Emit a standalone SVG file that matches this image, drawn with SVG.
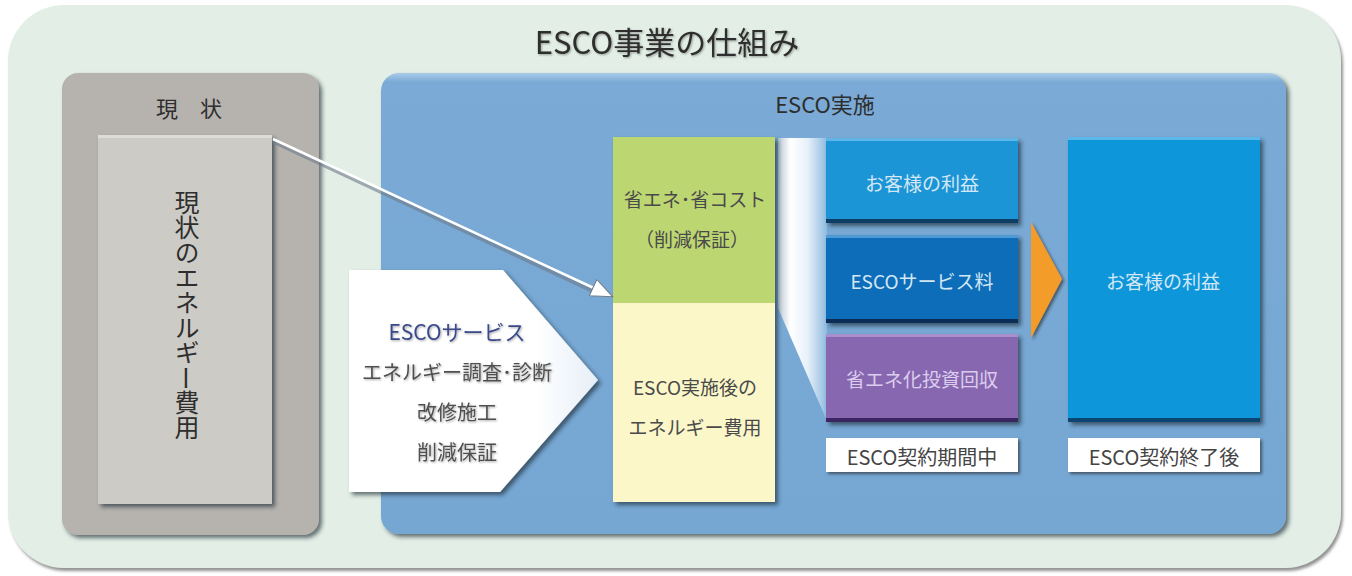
<svg xmlns="http://www.w3.org/2000/svg" width="1352" height="576" viewBox="0 0 1352 576">
<defs>
<style>
.t{font-family:"Noto Sans CJK JP","Liberation Sans",sans-serif;}
.dark{fill:#2e2e2e;}
.lbl{fill:#505050;font-size:20px;text-anchor:middle;}
.boxt{fill:#d3e7f5;font-size:19px;text-anchor:middle;}
.colt{fill:#4a4a4a;font-size:19px;text-anchor:middle;}
</style>
<filter id="sh" x="-10%" y="-10%" width="125%" height="125%">
<feDropShadow dx="3" dy="3" stdDeviation="2" flood-color="#1e2a35" flood-opacity="0.65"/>
</filter>
<filter id="shs" x="-10%" y="-10%" width="125%" height="130%">
<feDropShadow dx="2" dy="2" stdDeviation="1.5" flood-color="#222" flood-opacity="0.6"/>
</filter>
<filter id="outer" x="-5%" y="-5%" width="110%" height="110%">
<feDropShadow dx="2" dy="3" stdDeviation="1.5" flood-color="#777" flood-opacity="0.8"/>
</filter>
<filter id="tsh" x="-5%" y="-20%" width="110%" height="140%">
<feDropShadow dx="1" dy="1" stdDeviation="0.8" flood-color="#000" flood-opacity="0.35"/>
</filter>
<linearGradient id="blueP" x1="0" y1="0" x2="0" y2="1">
<stop offset="0" stop-color="#a9cbe8"/>
<stop offset="0.02" stop-color="#7aaad5"/>
<stop offset="1" stop-color="#76a7d3"/>
</linearGradient>
<linearGradient id="wedge" x1="0" y1="0" x2="1" y2="0">
<stop offset="0" stop-color="#b9c6d3"/>
<stop offset="0.25" stop-color="#ffffff"/>
<stop offset="0.6" stop-color="#e8f1f9"/>
<stop offset="1" stop-color="#8fbbe0"/>
</linearGradient>
<linearGradient id="pent" x1="0" y1="0" x2="1" y2="0">
<stop offset="0" stop-color="#ffffff"/>
<stop offset="0.75" stop-color="#ffffff"/>
<stop offset="1" stop-color="#e6eef7"/>
</linearGradient>
<marker id="ah" viewBox="0 0 12 10" refX="11" refY="5" markerWidth="24" markerHeight="18" markerUnits="userSpaceOnUse" orient="auto">
<path d="M0,0 L12,5 L0,10 z" fill="#ffffff" stroke="#6d7c8a" stroke-width="0.6"/>
</marker>
</defs>

<rect width="1352" height="576" fill="#ffffff"/>

<g id="frame">
<rect x="8" y="5" width="1333" height="563" rx="56" fill="#e3efe6" filter="url(#outer)"/>
<text class="t dark" x="667" y="54" font-size="31" text-anchor="middle" filter="url(#tsh)">ESCO事業の仕組み</text>
</g>

<g id="genjo">
<rect x="62" y="73" width="257" height="462" rx="16" fill="#b6b3ae" filter="url(#sh)"/>
<text class="t dark" x="189" y="117" font-size="22" text-anchor="middle">現　状</text>
</g>

<g id="genjo-cost">
<rect x="98" y="135" width="174" height="369" fill="#cdcbc6" filter="url(#sh)"/>
<rect x="98" y="135" width="174" height="3" fill="#dedcd8"/>
<text class="t dark" x="187" y="190" font-size="25" style="writing-mode:vertical-rl">現状のエネルギ</text>
<text class="t dark" x="187" y="378" font-size="25" text-anchor="middle" dominant-baseline="central" transform="rotate(90 187 378)">ー</text>
<text class="t dark" x="187" y="390" font-size="25" style="writing-mode:vertical-rl">費用</text>
</g>

<g id="esco">
<rect x="381" y="73" width="905" height="461" rx="18" fill="url(#blueP)" filter="url(#sh)"/>
<text class="t dark" x="825" y="113" font-size="22" text-anchor="middle">ESCO実施</text>
</g>

<g id="wedge-shape">
<polygon points="778,138 827,138 827,421 778,308" fill="url(#wedge)"/>
</g>

<g id="service">
<polygon points="349,270 503,270 598,380 500,492 349,492" fill="url(#pent)" filter="url(#sh)"/>
<text class="t" x="457" y="340" font-size="21" fill="#3b4a8a" text-anchor="middle" filter="url(#tsh)">ESCOサービス</text>
<text class="t lbl" x="457" y="380" filter="url(#tsh)">エネルギー調査･診断</text>
<text class="t lbl" x="457" y="420" filter="url(#tsh)">改修施工</text>
<text class="t lbl" x="457" y="460" filter="url(#tsh)">削減保証</text>
</g>

<g id="after-cost">
<rect x="613" y="137" width="162" height="365" fill="#fbf7c9" filter="url(#sh)"/>
<text class="t colt" x="695" y="395">ESCO実施後の</text>
<text class="t colt" x="695" y="435">エネルギー費用</text>
</g>

<g id="saving">
<rect x="613" y="137" width="162" height="166" fill="#bcd672"/>
<text class="t colt" x="695" y="207">省エネ･省コスト</text>
<text class="t colt" x="692" y="247">（削減保証）</text>
</g>

<g id="connectors">
<line x1="273" y1="140" x2="600" y2="293" stroke="#6d7c8a" stroke-width="4" opacity="0.6" transform="translate(0,1.5)"/>
<line x1="273" y1="139" x2="611" y2="296" stroke="#ffffff" stroke-width="2.5" marker-end="url(#ah)"/>
</g>

<g id="benefit1">
<rect x="826" y="138" width="192" height="85" fill="#1b95d6" filter="url(#sh)"/>
<rect x="826" y="219" width="192" height="4" fill="#0d3f66"/>
<rect x="826" y="138" width="192" height="3" fill="#5fb6e6"/>
<text class="t boxt" x="922" y="191">お客様の利益</text>
</g>

<g id="fee">
<rect x="826" y="235" width="192" height="88" fill="#0a6db8" filter="url(#sh)"/>
<rect x="826" y="319" width="192" height="4" fill="#0a2e55"/>
<rect x="826" y="235" width="192" height="3" fill="#4f9ad3"/>
<text class="t boxt" x="922" y="289">ESCOサービス料</text>
</g>

<g id="invest">
<rect x="826" y="334" width="192" height="88" fill="#8767b0" filter="url(#sh)"/>
<rect x="826" y="418" width="192" height="4" fill="#3c2563"/>
<rect x="826" y="334" width="192" height="3" fill="#a98fcc"/>
<text class="t" x="922" y="387" font-size="19" fill="#dccdee" text-anchor="middle">省エネ化投資回収</text>
</g>

<g id="label-during">
<rect x="826" y="438" width="192" height="34" fill="#ffffff" filter="url(#shs)"/>
<text class="t" x="922" y="465" font-size="20" fill="#444" text-anchor="middle">ESCO契約期間中</text>
</g>

<g id="orange-arrow">
<polygon points="1031,222 1062,279 1031,338" fill="#f39c2a" filter="url(#shs)"/>
</g>

<g id="benefit2">
<rect x="1068" y="137" width="192" height="285" fill="#0896da" filter="url(#sh)"/>
<rect x="1068" y="418" width="192" height="4" fill="#0b4673"/>
<rect x="1068" y="137" width="192" height="3" fill="#5ab8ea"/>
<text class="t boxt" x="1163" y="289">お客様の利益</text>
</g>

<g id="label-after">
<rect x="1068" y="438" width="192" height="34" fill="#ffffff" filter="url(#shs)"/>
<text class="t" x="1164" y="465" font-size="20" fill="#444" text-anchor="middle">ESCO契約終了後</text>
</g>
</svg>
